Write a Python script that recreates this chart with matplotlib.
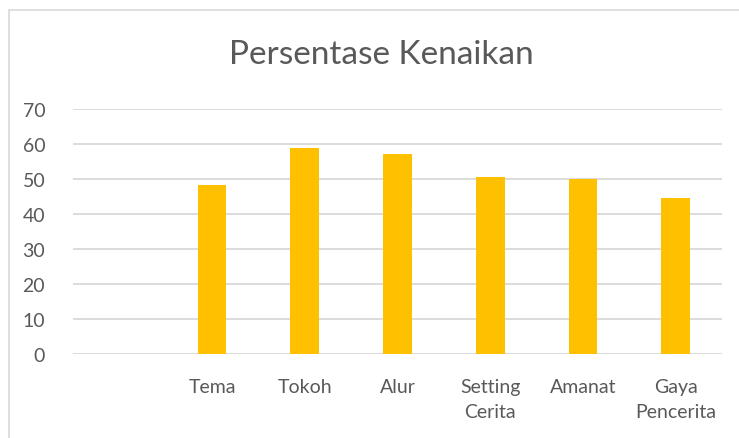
import matplotlib.pyplot as plt
from matplotlib.patches import Rectangle

# data
categories = ["", "Tema", "Tokoh", "Alur", "Setting\nCerita", "Amanat", "Gaya\nPencerita"]
values = [0, 48.4, 58.9, 57.2, 50.7, 50.0, 44.6]
yticks = [0, 10, 20, 30, 40, 50, 60, 70]

plt.rcParams['font.family'] = ['Lato', 'DejaVu Sans']
text_color = "#595959"

W, H = 739, 439
fig = plt.figure(figsize=(W / 100, H / 100), dpi=100)
ax = fig.add_axes([73 / W, 1 - 355 / H, (722 - 73) / W, (355 - 110) / H])

x = list(range(len(categories)))
ax.bar(x[1:], values[1:], width=0.31, color="#FFC000", zorder=3)

ax.set_xlim(-0.5, len(categories) - 0.5)
ax.set_ylim(0, 70)
ax.set_yticks(yticks)
ax.set_xticks(x)
ax.set_xticklabels(categories, linespacing=1.6)
ax.grid(axis="y", color="#d9d9d9", linewidth=1.3, zorder=0)
for s in ax.spines.values():
    s.set_visible(False)
ax.tick_params(axis="both", length=0, labelsize=14, colors=text_color)
ax.tick_params(axis="y", pad=20)
ax.tick_params(axis="x", pad=17)

fig.text(381 / W, 1 - 55 / H, "Persentase Kenaikan", ha="center", va="center",
         fontsize=24, color=text_color)

# chart border
fig.patches.append(Rectangle((9 / W, -0.1), 1.2, 1 - 11 / H + 0.1, transform=fig.transFigure,
                             fill=False, edgecolor="#d9d9d9", linewidth=1.2))

fig.savefig("out.png", dpi=100, facecolor="white")
